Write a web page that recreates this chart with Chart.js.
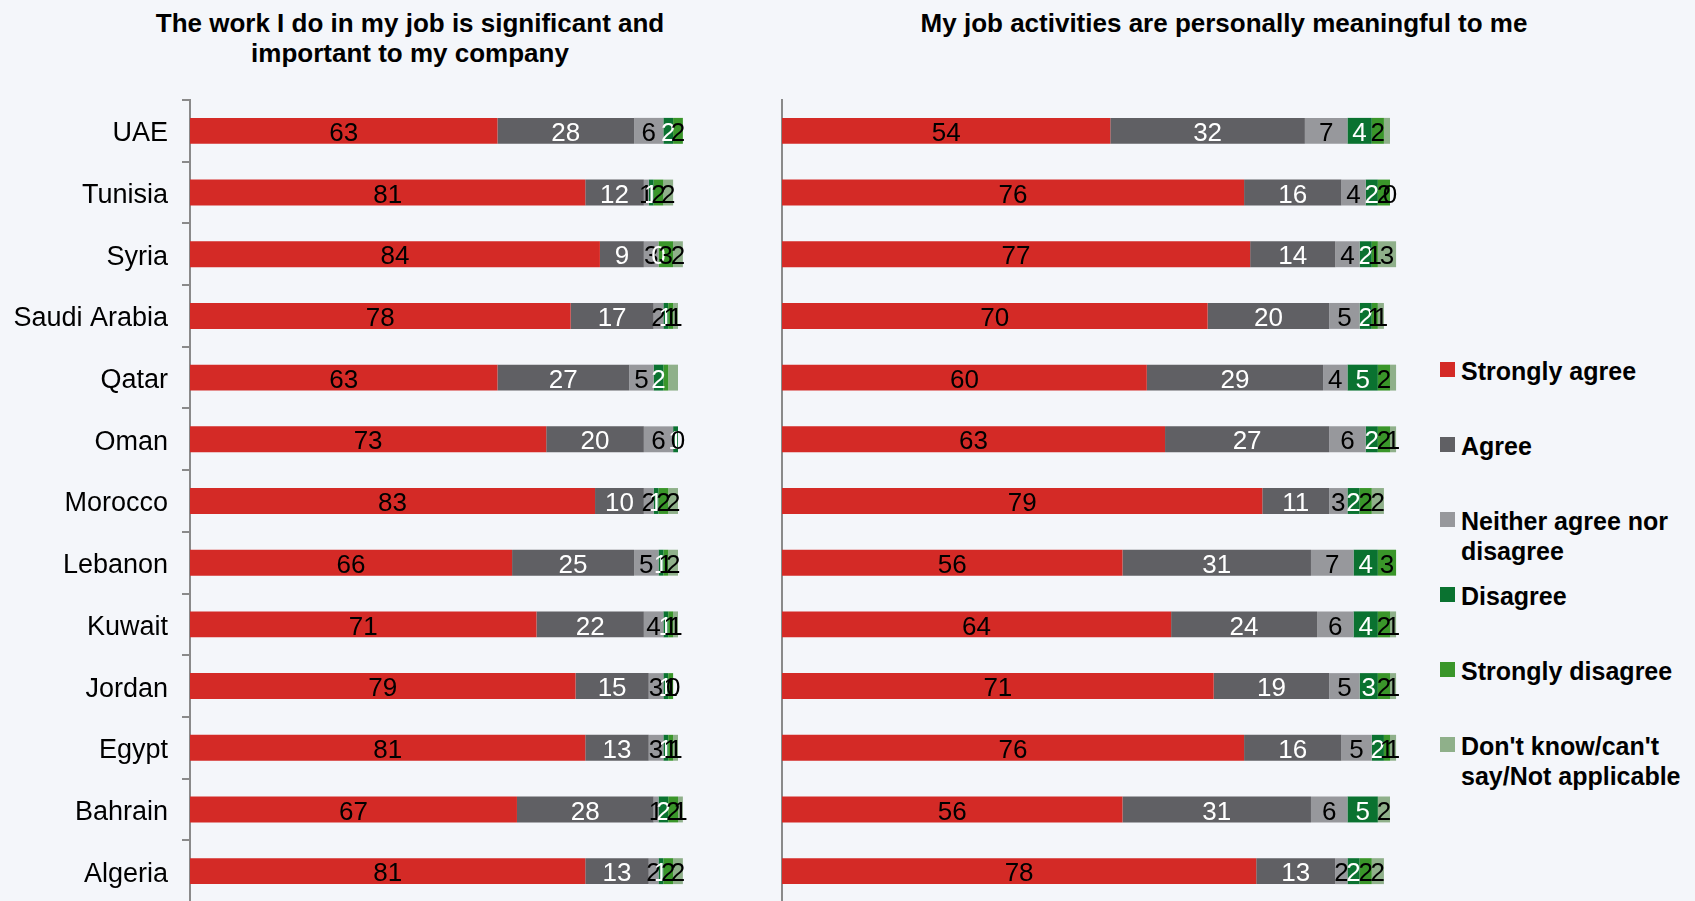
<!DOCTYPE html>
<html>
<head>
  <script src="https://cdn.jsdelivr.net/npm/chart.js@4.4.1/dist/chart.umd.min.js"></script>
  <style>
    html, body {
      margin: 0;
      padding: 0;
      width: 1695px;
      height: 901px;
      overflow: hidden;
      background: #f4f6fa;
      font-family: "Liberation Sans", Arial, sans-serif;
    }
    .title {
      position: absolute;
      top: 8px;
      transform: translateX(-50%);
      font-size: 26px;
      font-weight: bold;
      line-height: 30px;
      text-align: center;
      white-space: nowrap;
      color: #000;
    }
    canvas {
      position: absolute;
      top: 0;
    }
    #legend {
      position: absolute;
      left: 1440px;
      top: 0;
      width: 250px;
    }
    .item {
      position: absolute;
      left: 0;
      width: 245px;
      padding-left: 21px;
      font-size: 25px;
      font-weight: bold;
      line-height: 30px;
      color: #000;
    }
    .item span {
      position: absolute;
      left: 0;
      top: 6px;
      width: 15px;
      height: 15px;
    }
  </style>
</head>
<body>

  <div class="title" style="left: 410px;">The work I do in my job is significant and<br>important to my company</div>
  <div class="title" style="left: 1224px;">My job activities are personally meaningful to me</div>

  <canvas id="significant" width="700" height="903" style="left: 0px;"></canvas>
  <canvas id="meaningful" width="648" height="903" style="left: 772px;"></canvas>

  <div id="legend"></div>

  <script>
    const categories = ['UAE', 'Tunisia', 'Syria', 'Saudi Arabia', 'Qatar', 'Oman', 'Morocco',
      'Lebanon', 'Kuwait', 'Jordan', 'Egypt', 'Bahrain', 'Algeria'];

    const seriesNames = ['Strongly agree', 'Agree', 'Neither agree nor disagree', 'Disagree',
      'Strongly disagree', "Don't know/can't say/Not applicable"];
    const seriesColors = ['#d42a26', '#606064', '#97989c', '#0a7230', '#3a962a', '#8fb08a'];
    const labelColors = ['#000', '#fff', '#000', '#fff', '#000', '#000'];

    // "The work I do in my job is significant and important to my company"
    const sigStronglyAgree = [63, 81, 84, 78, 63, 73, 83, 66, 71, 79, 81, 67, 81];
    const sigAgree = [28, 12, 9, 17, 27, 20, 10, 25, 22, 15, 13, 28, 13];
    const sigNeither = [6, 1, 3, 2, 5, 6, 2, 5, 4, 3, 3, 1, 2];
    const sigDisagree = [2, 1, 0, 1, 2, 1, 1, 1, 1, 1, 1, 2, 1];
    const sigStronglyDisagree = [2, 2, 3, 1, 1, 0, 2, 1, 1, 1, 1, 2, 2];
    const sigDontKnow = [0, 2, 2, 1, 2, 0, 2, 2, 1, 0, 1, 1, 2];
    const sigNoLabel = ['UAE:5', 'Qatar:4', 'Qatar:5', 'Oman:5'];

    // "My job activities are personally meaningful to me"
    const meanStronglyAgree = [54, 76, 77, 70, 60, 63, 79, 56, 64, 71, 76, 56, 78];
    const meanAgree = [32, 16, 14, 20, 29, 27, 11, 31, 24, 19, 16, 31, 13];
    const meanNeither = [7, 4, 4, 5, 4, 6, 3, 7, 6, 5, 5, 6, 2];
    const meanDisagree = [4, 2, 2, 2, 5, 2, 2, 4, 4, 3, 2, 5, 2];
    const meanStronglyDisagree = [2, 2, 1, 1, 2, 2, 2, 3, 2, 2, 1, 0, 2];
    const meanDontKnow = [1, 0, 3, 1, 1, 1, 2, 0, 1, 1, 1, 2, 2];
    const meanNoLabel = ['UAE:5', 'Qatar:5', 'Lebanon:5', 'Bahrain:4'];

    Chart.defaults.font.family = '"Liberation Sans", Arial, sans-serif';

    // writes each segment's value in the middle of the segment
    const valueLabels = {
      id: 'valueLabels',
      afterDatasetsDraw(chart, args, opts) {
        const ctx = chart.ctx;
        ctx.save();
        ctx.font = '26px "Liberation Sans", Arial, sans-serif';
        ctx.textAlign = 'center';
        ctx.textBaseline = 'middle';
        chart.data.datasets.forEach(function(ds, i) {
          chart.getDatasetMeta(i).data.forEach(function(bar, j) {
            if (opts.skip.indexOf(categories[j] + ':' + i) >= 0) return;
            const c = bar.getCenterPoint();
            ctx.fillStyle = labelColors[i];
            ctx.fillText(ds.data[j], c.x, c.y + 3);
          });
        });
        ctx.restore();
      }
    };

    function makeChart(id, series, skip, showNames) {
      const datasets = series.map(function(values, i) {
        return {
          label: seriesNames[i],
          data: values,
          backgroundColor: seriesColors[i],
          borderWidth: 0,
          barPercentage: 0.42,
          categoryPercentage: 1,
          clip: false
        };
      });
      return new Chart(document.getElementById(id), {
        type: 'bar',
        data: { labels: categories, datasets: datasets },
        plugins: [valueLabels],
        options: {
          indexAxis: 'y',
          responsive: false,
          animation: false,
          layout: { padding: { top: 100, bottom: 1, right: showNames ? 22 : 30, left: 0 } },
          plugins: {
            legend: { display: false },
            tooltip: { enabled: false },
            valueLabels: { skip: skip }
          },
          scales: {
            x: { stacked: true, min: 0, max: 100, display: false },
            y: {
              stacked: true,
              afterFit: function(scale) {
                // fixed axis width, and no extra room for the end labels
                scale.width = showNames ? 190 : 10;
                scale.paddingTop = 0;
                scale.paddingBottom = 0;
              },
              border: { display: true, color: '#8a8a8a', width: 2 },
              grid: {
                display: showNames,
                drawOnChartArea: false,
                drawTicks: true,
                tickLength: 8,
                color: '#8a8a8a',
                lineWidth: 2
              },
              ticks: {
                display: showNames,
                color: '#000',
                padding: 14,
                labelOffset: 3,
                font: { size: 27 }
              }
            }
          }
        }
      });
    }

    makeChart('significant',
      [sigStronglyAgree, sigAgree, sigNeither, sigDisagree, sigStronglyDisagree, sigDontKnow],
      sigNoLabel, true);
    makeChart('meaningful',
      [meanStronglyAgree, meanAgree, meanNeither, meanDisagree, meanStronglyDisagree, meanDontKnow],
      meanNoLabel, false);

    // legend beside the right-hand chart
    const legendTops = [356, 431, 506, 581, 656, 731];
    const legend = document.getElementById('legend');
    seriesNames.forEach(function(name, i) {
      const item = document.createElement('div');
      item.className = 'item';
      item.style.top = legendTops[i] + 'px';
      item.innerHTML = '<span style="background:' + seriesColors[i] + '"></span>' + name;
      legend.appendChild(item);
    });
  </script>

</body>
</html>
